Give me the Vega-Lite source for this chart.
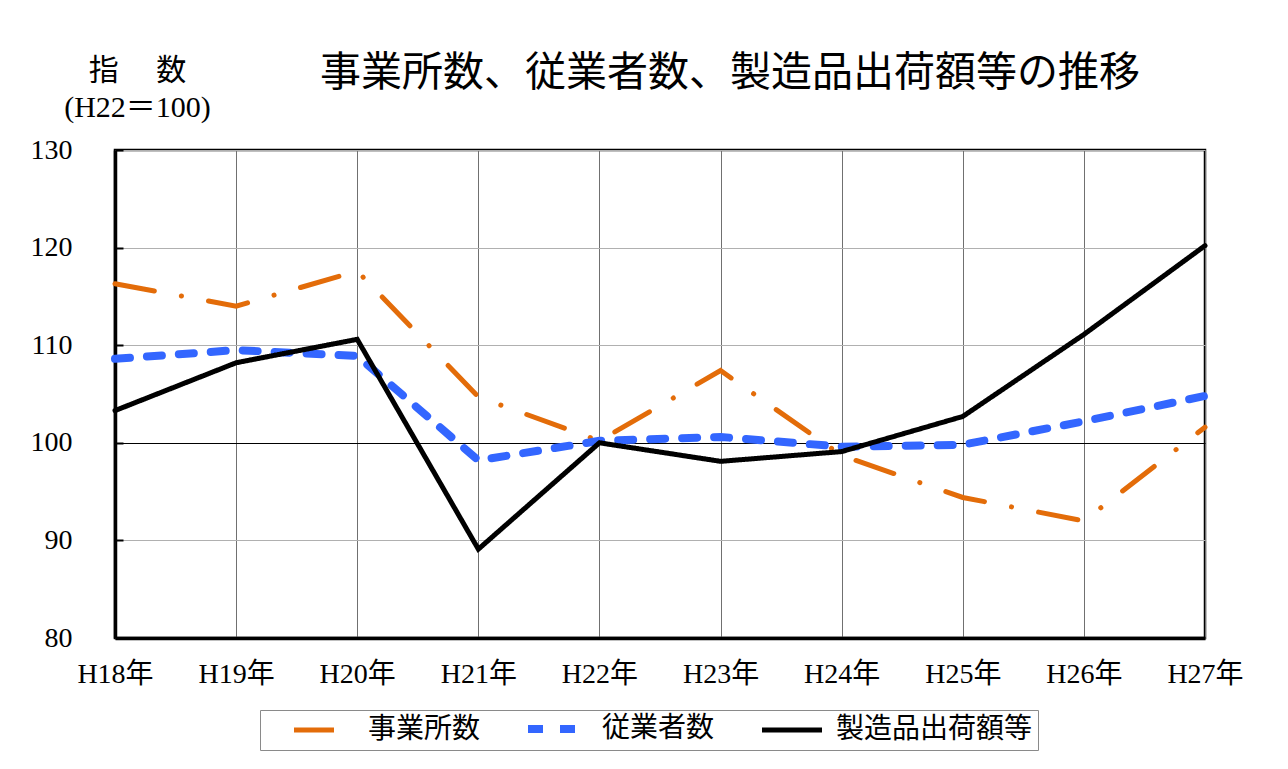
{
  "$schema": "https://vega.github.io/schema/vega-lite/v6.json",
  "width": 1090,
  "height": 488,
  "autosize": {"type": "none"},
  "padding": {"left": 115, "top": 150, "right": 83, "bottom": 131},
  "background": "white",
  "title": {
    "text": "事業所数、従業者数、製造品出荷額等の推移",
    "font": "Noto Sans CJK JP",
    "fontSize": 41,
    "fontWeight": "normal",
    "color": "black",
    "frame": "group",
    "anchor": "middle",
    "dx": 70,
    "offset": -40,
    "limit": 0
  },
  "config": {
    "view": {"stroke": "black", "strokeWidth": 2.5},
    "axis": {
      "labelFont": "Liberation Serif, Noto Sans CJK JP",
      "labelColor": "black",
      "labelFontSize": 28,
      "titleFont": "Liberation Serif, Noto Sans CJK JP",
      "titleColor": "black",
      "titleFontWeight": "normal",
      "domainColor": "black",
      "domainWidth": 3.5
    }
  },
  "data": {
    "values": [
      {"year": "H18年", "series": "事業所数", "value": 116.3},
      {"year": "H19年", "series": "事業所数", "value": 114.0},
      {"year": "H20年", "series": "事業所数", "value": 117.6},
      {"year": "H21年", "series": "事業所数", "value": 104.7},
      {"year": "H22年", "series": "事業所数", "value": 100.2},
      {"year": "H23年", "series": "事業所数", "value": 107.4},
      {"year": "H24年", "series": "事業所数", "value": 98.7},
      {"year": "H25年", "series": "事業所数", "value": 94.4},
      {"year": "H26年", "series": "事業所数", "value": 92.0},
      {"year": "H27年", "series": "事業所数", "value": 101.6},
      {"year": "H18年", "series": "従業者数", "value": 108.6},
      {"year": "H19年", "series": "従業者数", "value": 109.5},
      {"year": "H20年", "series": "従業者数", "value": 108.9},
      {"year": "H21年", "series": "従業者数", "value": 98.2},
      {"year": "H22年", "series": "従業者数", "value": 100.2},
      {"year": "H23年", "series": "従業者数", "value": 100.6},
      {"year": "H24年", "series": "従業者数", "value": 99.6},
      {"year": "H25年", "series": "従業者数", "value": 99.8},
      {"year": "H26年", "series": "従業者数", "value": 102.2},
      {"year": "H27年", "series": "従業者数", "value": 104.8},
      {"year": "H18年", "series": "製造品出荷額等", "value": 103.3},
      {"year": "H19年", "series": "製造品出荷額等", "value": 108.2},
      {"year": "H20年", "series": "製造品出荷額等", "value": 110.6},
      {"year": "H21年", "series": "製造品出荷額等", "value": 89.1},
      {"year": "H22年", "series": "製造品出荷額等", "value": 100.0},
      {"year": "H23年", "series": "製造品出荷額等", "value": 98.1},
      {"year": "H24年", "series": "製造品出荷額等", "value": 99.1},
      {"year": "H25年", "series": "製造品出荷額等", "value": 102.7},
      {"year": "H26年", "series": "製造品出荷額等", "value": 111.1},
      {"year": "H27年", "series": "製造品出荷額等", "value": 120.2}
    ]
  },
  "mark": {"type": "line", "strokeCap": "round", "strokeJoin": "miter"},
  "encoding": {
    "x": {
      "field": "year",
      "type": "ordinal",
      "sort": null,
      "scale": {"type": "point", "padding": 0},
      "axis": {
        "title": null,
        "labelAngle": 0,
        "labelPadding": 22,
        "ticks": false,
        "grid": true,
        "gridColor": "#707070",
        "gridWidth": 1
      }
    },
    "y": {
      "field": "value",
      "type": "quantitative",
      "scale": {"domain": [80, 130], "nice": false, "zero": false},
      "axis": {
        "values": [80, 90, 100, 110, 120, 130],
        "title": ["指　 数", "(H22＝100)"],
        "titleFontSize": 30,
        "titleAngle": 0,
        "titleAlign": "center",
        "titleBaseline": "top",
        "titleLineHeight": 37,
        "titleX": 22,
        "titleY": -95,
        "labelPadding": 51,
        "ticks": true,
        "tickSize": -8,
        "tickColor": "black",
        "tickWidth": 2,
        "grid": true,
        "gridColor": {"condition": {"test": "datum.value === 100", "value": "black"}, "value": "#b0b0b0"},
        "gridWidth": 1.2
      }
    },
    "color": {
      "field": "series",
      "type": "nominal",
      "scale": {"domain": ["事業所数", "従業者数", "製造品出荷額等"], "range": ["#E36C09", "#3366FF", "#000000"]},
      "legend": {
        "title": null,
        "orient": "none",
        "legendX": 145,
        "legendY": 560,
        "direction": "horizontal",
        "symbolType": "M1.5,0H7.5",
        "symbolSize": 400,
        "labelFont": "Noto Sans CJK JP",
        "labelFontSize": 28,
        "labelColor": "black",
        "labelOffset": 75,
        "labelLimit": 0,
        "columnPadding": 18,
        "padding": 5,
        "strokeColor": "#8a8a8a",
        "fillColor": "white"
      }
    },
    "strokeDash": {
      "field": "series",
      "type": "nominal",
      "scale": {"domain": ["事業所数", "従業者数", "製造品出荷額等"], "range": [[40, 27.5, 0.1, 27.5], [15, 17], [1, 0]]},
      "legend": null
    },
    "strokeWidth": {
      "field": "series",
      "type": "nominal",
      "scale": {"type": "ordinal", "domain": ["事業所数", "従業者数", "製造品出荷額等"], "range": [5, 8, 5]},
      "legend": null
    }
  }
}
